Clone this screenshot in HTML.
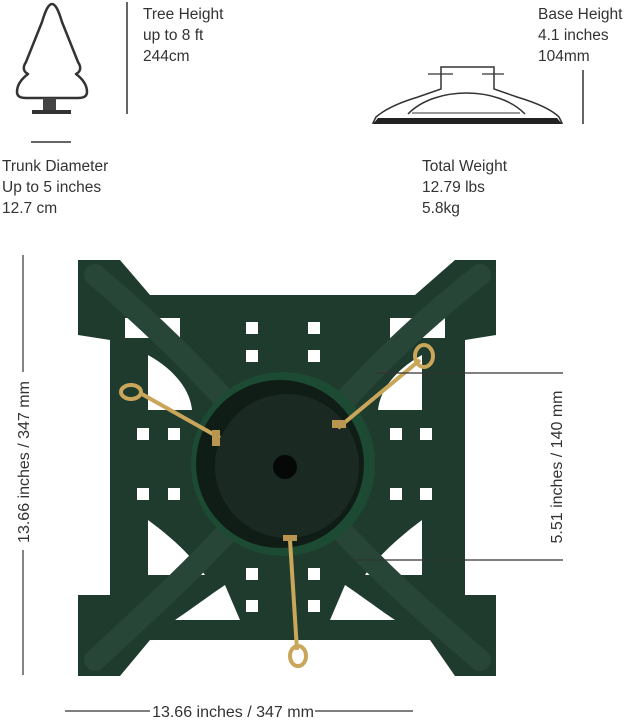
<!DOCTYPE html>
<html><head><meta charset="utf-8"><style>
body{margin:0;background:#fff;}
svg{display:block;}
text{font-family:"Liberation Sans",sans-serif;fill:#333;}
</style></head><body>
<svg width="630" height="720" viewBox="0 0 630 720" xmlns="http://www.w3.org/2000/svg">
<path d="M52 4 C48 4 45 12 42 22 L26 62 C22 68 24 72 28 74 C20 80 17 86 17 92 C17 96 20 98 26 98 L78 98 C84 98 87 96 87 92 C87 86 84 80 76 74 C80 72 82 68 78 62 L62 22 C59 12 56 4 52 4 Z" fill="none" stroke="#333" stroke-width="2.5" stroke-linejoin="round"/>
<rect x="43" y="98" width="13" height="12" fill="#444"/>
<rect x="32" y="110" width="39" height="4" fill="#333"/>
<line x1="127" y1="2" x2="127" y2="114" stroke="#333" stroke-width="1.5"/>
<line x1="31" y1="142" x2="71" y2="142" stroke="#333" stroke-width="1.5"/>
<text x="143" y="19" font-size="15.5">Tree Height</text>
<text x="143" y="40" font-size="15.5">up to 8 ft</text>
<text x="143" y="61" font-size="15.5">244cm</text>
<text x="2" y="171" font-size="15.5">Trunk Diameter</text>
<text x="2" y="192" font-size="15.5">Up to 5 inches</text>
<text x="2" y="213" font-size="15.5">12.7 cm</text>
<path d="M373 123 L376 117 C384 110 398 103 418 97 L441 89 L441 67 L494 67 L494 89 L517 97 C537 103 552 110 559 117 L562 123 Z" fill="#fff" stroke="#333" stroke-width="1.5"/>
<path d="M373 124 L562 124 L557 118 L378 118 Z" fill="#222"/>
<path d="M408 114 C435 86 498 86 525 114" fill="none" stroke="#333" stroke-width="1.5"/>
<line x1="412" y1="113" x2="520" y2="113" stroke="#333" stroke-width="1"/>
<line x1="428" y1="74" x2="453" y2="74" stroke="#333" stroke-width="1.2"/>
<line x1="482" y1="74" x2="504" y2="74" stroke="#333" stroke-width="1.2"/>
<line x1="583" y1="70" x2="583" y2="124" stroke="#333" stroke-width="1.5"/>
<text x="538" y="19" font-size="15.5">Base Height</text>
<text x="538" y="40" font-size="15.5">4.1 inches</text>
<text x="538" y="61" font-size="15.5">104mm</text>
<text x="422" y="171" font-size="15.5">Total Weight</text>
<text x="422" y="192" font-size="15.5">12.79 lbs</text>
<text x="422" y="213" font-size="15.5">5.8kg</text>
<path d="M78 260 L120 260 L150 295 L415 295 L455 260 L496 260 L496 335 L465 340 L465 595 L496 595 L496 676 L455 676 L430 640 L150 640 L120 676 L78 676 L78 595 L110 595 L110 340 L78 335 Z" fill="#1f3b2d"/>
<g fill="#fff">
<rect x="125" y="318" width="55" height="20"/><rect x="390" y="318" width="55" height="20"/>
<rect x="246" y="322" width="12" height="12"/><rect x="308" y="322" width="12" height="12"/>
<rect x="246" y="350" width="12" height="12"/><rect x="308" y="350" width="12" height="12"/>
<rect x="137" y="428" width="12" height="12"/><rect x="168" y="428" width="12" height="12"/>
<rect x="137" y="488" width="12" height="12"/><rect x="168" y="488" width="12" height="12"/>
<rect x="390" y="428" width="12" height="12"/><rect x="420" y="428" width="12" height="12"/>
<rect x="390" y="488" width="12" height="12"/><rect x="420" y="488" width="12" height="12"/>
<rect x="246" y="568" width="12" height="12"/><rect x="308" y="568" width="12" height="12"/>
<rect x="246" y="600" width="12" height="12"/><rect x="308" y="600" width="12" height="12"/>
<path d="M148 355 C175 370 190 390 192 410 L148 410 Z"/>
<path d="M422 355 C395 370 380 390 378 410 L422 410 Z"/>
<path d="M148 520 C175 540 190 555 205 575 L148 575 Z"/>
<path d="M422 520 C395 540 375 560 365 575 L422 575 Z"/>
<path d="M345 585 C360 595 380 610 395 620 L330 620 Z"/>
<path d="M225 585 C210 595 190 610 175 620 L240 620 Z"/>
</g>
<g stroke="#284638" stroke-width="22" stroke-linecap="round" fill="none">
<path d="M95 275 C160 330 210 380 285 468"/>
<path d="M480 275 C410 330 360 380 285 468"/>
<path d="M95 660 C160 600 210 555 285 468"/>
<path d="M480 660 C410 600 360 555 285 468"/>
</g>
<circle cx="283" cy="464" r="92" fill="#1d4a33"/>
<circle cx="280" cy="464" r="84" fill="#0f1d16"/>
<circle cx="287" cy="466" r="72" fill="#1a2a22"/>
<circle cx="285" cy="467" r="12" fill="#050807"/>
<g stroke="#c9a65a" stroke-width="4" fill="none">
<line x1="140" y1="393" x2="220" y2="438"/>
<line x1="420" y1="360" x2="338" y2="428"/>
<line x1="290" y1="540" x2="297" y2="650"/>
<ellipse cx="131" cy="392" rx="10" ry="7"/>
<ellipse cx="424" cy="356" rx="9" ry="11"/>
<ellipse cx="298" cy="656" rx="8" ry="10"/>
</g>
<g fill="#b89650"><rect x="212" y="430" width="8" height="16"/><rect x="332" y="420" width="14" height="8"/><rect x="283" y="535" width="14" height="6"/></g>
<g stroke="#333" stroke-width="1.2">
<line x1="23" y1="255" x2="23" y2="372"/><line x1="23" y1="550" x2="23" y2="675"/>
<line x1="65" y1="711" x2="150" y2="711"/><line x1="315" y1="711" x2="413" y2="711"/>
<line x1="375" y1="373" x2="563" y2="373"/><line x1="350" y1="560" x2="563" y2="560"/>
</g>
<text x="233" y="717" font-size="16" text-anchor="middle">13.66 inches / 347 mm</text>
<text transform="translate(29,462) rotate(-90)" font-size="16" text-anchor="middle">13.66 inches / 347 mm</text>
<text transform="translate(562,467) rotate(-90)" font-size="16" text-anchor="middle">5.51 inches / 140 mm</text>
</svg>
</body></html>
